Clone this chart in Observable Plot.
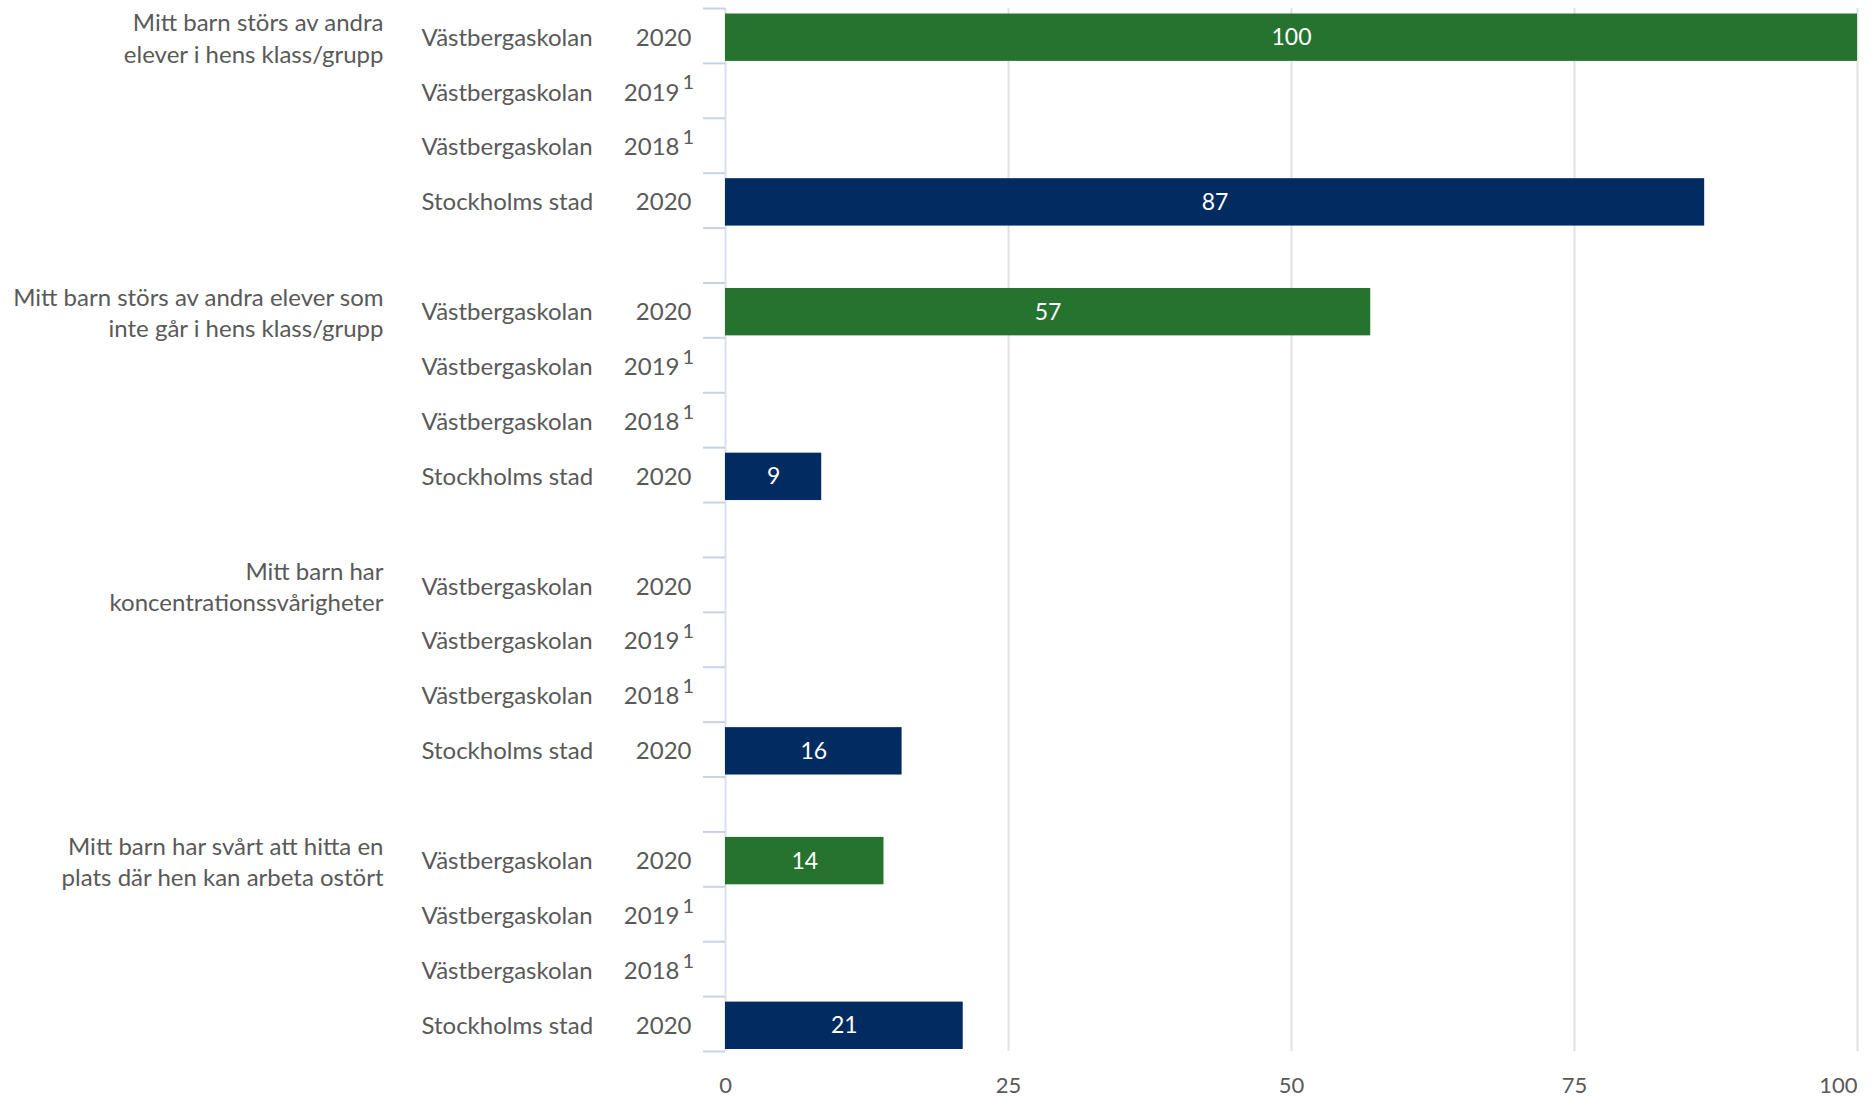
<!DOCTYPE html>
<html>
<head>
<meta charset="utf-8">
<script src="https://cdn.jsdelivr.net/npm/d3@7"></script>
<script src="https://cdn.jsdelivr.net/npm/@observablehq/plot@0.6"></script>
<style>
  body { margin: 0; background: #fff; }
</style>
</head>
<body>
<div id="chart"></div>
<script>
// ---- data ----
const groupTitles = [
  "Mitt barn störs av andra\nelever i hens klass/grupp",
  "Mitt barn störs av andra elever som\ninte går i hens klass/grupp",
  "Mitt barn har\nkoncentrationssvårigheter",
  "Mitt barn har svårt att hitta en\nplats där hen kan arbeta ostört"
];
const rowEntities = ["Västbergaskolan", "Västbergaskolan", "Västbergaskolan", "Stockholms stad"];
const rowYears = ["2020", "2019", "2018", "2020"];
const rowNotes = ["", "1", "1", ""];
// one value per group (question), null = no data
const vastberga2020 = [100, 57, null, 14];
const vastberga2019 = [null, null, null, null];
const vastberga2018 = [null, null, null, null];
const stockholm2020 = [86.5, 8.5, 15.6, 21];
const xTicks = [0, 25, 50, 75, 100];

// ---- build table ----
const series = [vastberga2020, vastberga2019, vastberga2018, stockholm2020];
const rows = [];
const domain = [];
groupTitles.forEach((title, g) => {
  rowEntities.forEach((entity, r) => {
    const key = `g${g}r${r}`;
    domain.push(key);
    rows.push({key, g, r, entity, year: rowYears[r], note: rowNotes[r], value: series[r][g], title});
  });
  if (g < groupTitles.length - 1) domain.push(`gap${g}`);
});
const bars = rows.filter(d => d.value != null);
const firstRows = rows.filter(d => d.r === 0);

// ---- layout ----
const W = 1875, H = 1096, mt = 8, mb = 45, ml = 725, mr = 18;
const bw = (H - mt - mb) / domain.length;
const tickColor = "#c7d2e7";

const chart = Plot.plot({
  width: W, height: H,
  marginLeft: ml, marginRight: mr, marginTop: mt, marginBottom: mb,
  style: {fontFamily: "Lato, sans-serif", fontSize: "24px", color: "#595959", background: "white", overflow: "visible"},
  x: {domain: [0, 100], label: null},
  y: {type: "band", domain, padding: 0, round: false, label: null},
  color: {domain: ["Västbergaskolan", "Stockholms stad"], range: ["#267330", "#022b62"]},
  marks: [
    Plot.ruleX(xTicks.slice(1), {stroke: "#e1e1e1", strokeWidth: 2}),
    Plot.ruleX([0], {stroke: "#dbe1ec", strokeWidth: 2}),
    Plot.axisY(domain, {tickSize: 22, dy: -bw / 2, stroke: tickColor, strokeWidth: 2, strokeOpacity: 1, tickFormat: () => ""}),
    Plot.axisY([domain[domain.length - 1]], {tickSize: 22, dy: bw / 2, stroke: tickColor, strokeWidth: 2, strokeOpacity: 1, tickFormat: () => ""}),
    Plot.barX(bars, {x: "value", y: "key", fill: "entity", insetTop: 5.5, insetBottom: 2}),
    Plot.text(bars, {x: d => d.value / 2, y: "key", dy: 2, text: d => String(Math.round(d.value)), fill: "white", fontSize: 23}),
    Plot.text(rows, {y: "key", frameAnchor: "left", dx: -304, dy: 2, textAnchor: "start", text: "entity"}),
    Plot.text(rows.filter(d => !d.note), {y: "key", frameAnchor: "left", dx: -34, dy: 2, textAnchor: "end", text: "year"}),
    Plot.text(rows.filter(d => d.note), {y: "key", frameAnchor: "left", dx: -46, dy: 2, textAnchor: "end", text: "year"}),
    Plot.text(rows.filter(d => d.note), {y: "key", frameAnchor: "left", dx: -43, dy: -8, textAnchor: "start", text: "note", fontSize: 20}),
    Plot.text(firstRows, {y: "key", frameAnchor: "left", dx: -342, dy: 1, textAnchor: "end", text: "title", lineHeight: 1.3}),
    Plot.axisX(xTicks.slice(0, -1), {tickSize: 0, tickPadding: 26, fontSize: 22, label: null}),
    Plot.axisX(xTicks.slice(-1), {tickSize: 0, tickPadding: 26, fontSize: 22, textAnchor: "end", label: null})
  ]
});
document.getElementById("chart").appendChild(chart);
</script>
</body>
</html>
